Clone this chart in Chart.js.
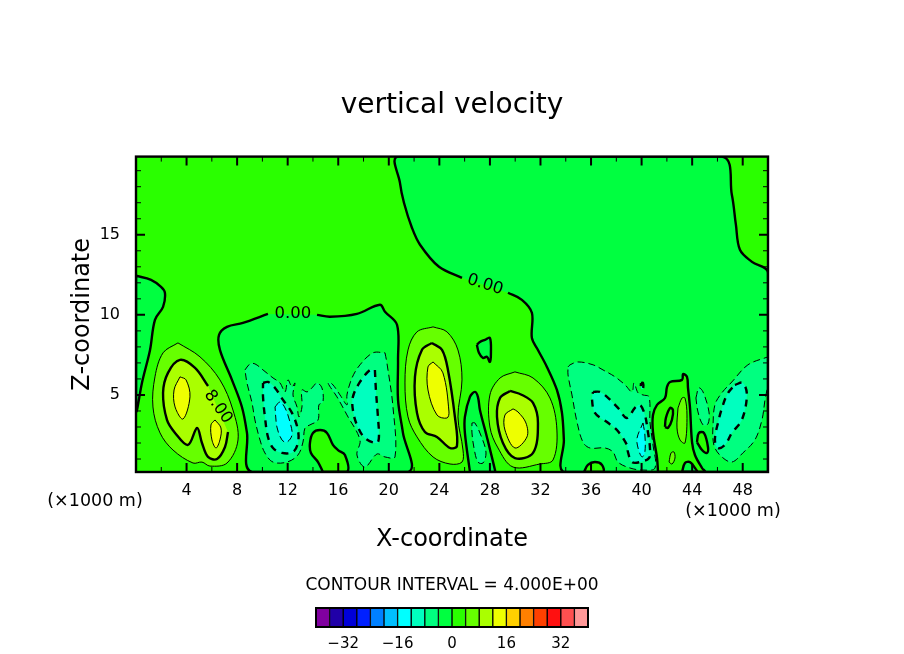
<!DOCTYPE html>
<html>
<head>
<meta charset="utf-8">
<style>
html,body{margin:0;padding:0;background:#fff}
#wrap{position:relative;width:904px;height:654px;overflow:hidden}
canvas{position:absolute;left:0}
</style>
<script src="https://cdn.jsdelivr.net/npm/chart.js@4"></script>
</head>
<body>
<div id="wrap">
<canvas id="contourChart" width="904" height="654" style="top:0"></canvas>
<canvas id="barChart" width="904" height="54" style="top:600px"></canvas>
</div>
<script>
// axis ranges and ticks (x in 1000 m)
const xRange = [0, 50];
const zRange = [0.19, 19.88];
const xLabels = [4, 8, 12, 16, 20, 24, 28, 32, 36, 40, 44, 48];
const xMinor = [2, 6, 10, 14, 18, 22, 26, 30, 34, 38, 42, 46, 50];
const zLabels = [5, 10, 15];
const zMinor = [1, 2, 3, 4, 6, 7, 8, 9, 11, 12, 13, 14, 16, 17, 18, 19];

// colour bar
const barEdges = [-40, -36, -32, -28, -24, -20, -16, -12, -8, -4, 0, 4, 8, 12, 16, 20, 24, 28, 32, 36, 40];
const barLabels = [-32, -16, 0, 16, 32];
const barColors = ["#8000a0", "#2000a8", "#0000d8", "#0020ff", "#0080ff", "#00bfff", "#00ffff", "#00ffbf",
  "#00ff80", "#00ff40", "#2aff00", "#66ff00", "#aaff00", "#eeff00", "#ffd000", "#ff8000", "#ff4000", "#ff1010",
  "#ff5050", "#ff9898"];

// contour outlines, [x, z]. a trailing null = gap for the line label
const plotBox = [[0,0.19],[50,0.19],[50,19.88],[0,19.88]];

const zeroRight = [[29.43,11.38],[30.53,10.94],[31.32,10.13],[31.32,8.56],[31.8,7.81],[32.51,6.75],[33.3,5.31],[33.7,3.88],[33.85,2.19],[33.93,0.19],[50,0.19],[50,12.63],[48.73,13.31],[47.78,14.06],[47.46,15.63],[47.14,17.5],[46.35,19.88],[20.73,19.88],[20.88,18.25],[21.2,17],[21.83,15.44],[22.47,14.38],[23.97,13],[25.79,12.31],null];
const zeroCenter = [[14.32,10],[15.35,9.88],[17.48,10.06],[19.3,10.63],[19.7,10.19],[20.65,9.38],[20.73,7.19],[20.73,4.69],[21.12,2.63],[21.52,0.19],[9.18,0.19],[8.78,2.63],[8.38,4.25],[7.59,5.94],[6.64,7.81],[6.57,8.75],[7.2,9.25],[8.46,9.5],[10.44,10.06],null];
const zeroLeft = [[0,12.44],[1.19,12.19],[1.98,11.75],[2.29,11.38],[2.14,10.5],[1.5,9.69],[1.11,7.81],[0.47,5.75],[0.08,4.06],[0,3.94]];
const zeroGap26 = [[26.42,0.19],[26.02,2.63],[26.02,3.63],[26.42,4.88],[26.81,5.19],[27.05,4.88],[27.21,4.06],[27.76,2.38],[28.4,0.31],[28.4,0.19]];
const zeroHeart = [[26.97,8.13],[27.21,8.31],[27.61,8.44],[28,8.56],[28.08,7.63],[28,7.06],[27.76,7.38],[27.45,7.31],[27.13,7.63]];
const zeroIsland16 = [[14.79,0.19],[14.4,0.81],[13.84,1.38],[13.76,2],[14,2.63],[14.56,2.81],[15.11,2.63],[15.58,1.88],[15.98,1.56],[16.53,1.25],[16.69,0.19]];
const zeroIsland36 = [[35.44,0.19],[35.75,0.63],[36.31,0.81],[36.87,0.63],[36.95,0.19]];
const zeroIsland43 = [[41.3,0.19],[41.22,1.06],[40.9,2.69],[40.9,3.75],[41.22,4.38],[41.85,4.81],[42.01,5.5],[42.25,5.81],[43.2,5.94],[43.28,6.31],[43.59,6.13],[43.67,5.44],[43.83,4.19],[43.99,2.06],[44.22,1.25],[44.78,0.44],[45.01,0.19]];
const zeroHole44 = [[43.2,0.19],[43.43,0.75],[43.83,0.81],[44.22,0.44],[44.38,0.19]];
const zeroRing42 = [[41.85,3],[41.92,3.56],[42.25,4.19],[42.48,4.06],[42.4,3.44],[42.09,2.94]];
const zeroIsland45 = [[44.38,2.06],[44.53,2.63],[44.93,2.63],[45.25,1.75],[45.17,1.38],[44.78,1.56]];

const neg4Left = [[8.62,6.56],[9.02,6.94],[9.41,6.94],[10.05,6.56],[10.84,6.06],[11.39,5.75],[11.79,5.19],[12.02,5.94],[12.34,5.5],[12.58,5.75],[12.42,5],[12.74,4.25],[12.89,3.63],[13.13,4.25],[13.13,5.31],[13.53,5.19],[13.92,5.44],[14.32,5.75],[14.71,5.44],[14.79,4.56],[14.47,4.38],[14.4,3.44],[13.76,3.13],[13.37,2.94],[13.21,2.06],[12.81,1.25],[11.94,0.81],[10.84,0.81],[10.2,1.38],[9.81,2.19],[9.41,3.44],[9.18,4.5],[8.78,5.75]];
const neg4Right = [[19.7,7.63],[19.85,7],[20.33,4.25],[20.49,1.13],[19.7,1.13],[19.06,1.31],[18.11,0.5],[17.48,1.25],[17.72,2.19],[16.69,3.75],[15.9,4.88],[15.19,5.75],[15.51,5.69],[16.14,5],[16.69,4.38],[16.69,5],[17.09,6.06],[17.72,6.88],[18.75,7.63]];
const neg4Gap = [[26.58,3.25],[26.81,3.25],[27.37,2.31],[27.69,1.38],[27.45,0.75],[27.05,0.81],[26.74,1.69],[26.58,2.63]];
const neg4Mid = [[34.18,6.75],[34.34,6.88],[34.97,7.06],[36.16,6.88],[36.95,6.56],[37.9,6.13],[38.69,5.63],[39.24,5.19],[39.4,5.75],[39.72,5.13],[40.11,5],[40.59,4.88],[40.66,3.31],[40.9,1.88],[41.06,0.44],[40.11,0.31],[39.08,0.44],[38.13,0.81],[37.74,1.44],[37.1,1.69],[35.91,1.69],[35.36,2.06],[34.89,3.31],[34.49,5],[34.18,6.25]];
const neg4Slim = [[44.3,4.81],[44.53,5.44],[44.86,5.19],[45.33,3.94],[45.25,3.19],[44.86,3.13],[44.46,3.94]];
const neg4East = [[50,7.38],[50,5.75],[49.76,4.69],[49.52,3.44],[48.96,2.19],[48.01,1.38],[47.14,0.81],[46.35,1.13],[45.8,1.69],[45.64,2.31],[45.64,2.94],[45.8,4.38],[46.35,5.13],[47.14,5.81],[48.41,6.88]];

const neg8Left = [[10.05,5.75],[10.44,5.81],[11,5.44],[11.63,4.69],[12.34,3.88],[12.81,2.81],[12.81,2],[12.42,1.44],[11.55,1.38],[10.84,1.69],[10.44,2.38],[10.2,3.63],[10.05,4.88]];
const neg8Right = [[18.9,6.56],[18.98,5.31],[19.14,3.63],[19.22,2.38],[19.06,2],[18.11,2.31],[17.48,3.13],[17.16,4.06],[17.16,4.88],[17.72,5.81],[18.51,6.56]];
const neg8Mid = [[36.16,5.19],[36.7,5.19],[37.26,4.88],[38.13,4.19],[38.84,3.56],[39.47,4.19],[39.87,4.38],[40.26,3.75],[40.5,2.69],[40.66,1.69],[40.59,1.06],[39.87,0.81],[39.24,0.81],[38.92,1.44],[38.84,1.88],[38.05,2.81],[37.26,3.31],[36.31,3.88],[36.07,4.81]];
const neg8Dot = [[39.95,5.75],[40.11,5.75],[40.11,5.38],[39.95,5.38]];
const neg8East = [[47.38,5.63],[48.01,5.75],[48.33,5],[47.93,3.44],[47.14,2.63],[46.59,1.88],[46.04,1.69],[45.8,2.19],[46.04,3.25],[46.44,4.38],[46.84,5.13]];

const neg12Left = [[11,4.25],[11.39,4.56],[11.79,4.19],[12.18,3.31],[12.34,2.5],[11.94,2.06],[11.55,2.19],[11.15,3]];
const neg12Mid = [[40.11,3.25],[40.26,2.5],[40.26,1.44],[40.03,1.13],[39.72,1.69],[39.64,2.31]];

const pos4A = [[3.32,8.25],[5.06,7.38],[6.64,5.94],[7.67,4.06],[8.07,2.19],[7.2,0.75],[5.85,0.56],[5.22,0.81],[4.51,0.75],[2.93,1.56],[1.9,2.63],[1.34,4.25],[1.5,6.13],[2.14,7.63]];
const pos4B = [[23.5,9.25],[24.6,8.94],[25.47,7.81],[25.79,5.94],[25.47,3.63],[25.87,1.56],[25.79,0.81],[24.84,0.69],[23.5,1.13],[22.23,2.38],[21.52,3.63],[21.28,5.75],[21.52,7.81],[22.23,8.94]];
const pos4C = [[29.98,6.44],[31.41,6.06],[32.75,4.81],[33.3,2.81],[32.99,0.94],[31.96,0.69],[29.83,0.5],[28.64,1.69],[28,3],[28,5],[28.8,6.06]];
const pos4Isle = [[42.88,4.19],[43.2,4.81],[43.43,4.81],[43.59,3.75],[43.43,2],[43.04,2.19],[42.8,2.94]];
const pos4Dot = [[42.17,0.81],[42.33,1.38],[42.56,1.44],[42.64,1.06],[42.41,0.69]];

const pos8A = [[7.28,2.69],[7.04,1.75],[6.41,1],[5.7,1.13],[5.22,2],[4.83,2.94],[4.11,1.88],[3.09,2.63],[2.45,3.44],[2.14,5.13],[2.53,6.38],[3.48,7.19],[4.67,6.69],[5.7,5.56],null];
const pos8B = [[23.41,8.25],[24.21,7.81],[24.68,6.56],[25.23,3.63],[25.39,1.81],[24.84,1.69],[23.81,2.38],[22.86,2.69],[22.23,3.88],[22.07,6.13],[22.62,7.81]];
const pos8C = [[29.59,5.25],[30.54,5],[31.41,4.5],[31.8,3.25],[31.41,1.38],[29.98,1.06],[29.03,2],[28.56,3.63],[28.8,4.81]];

const pos12A = [[3.48,6.13],[3.96,5.94],[4.27,4.88],[3.72,3.5],[3.09,4.25],[3.01,5.31]];
const pos12Foot = [[6.25,3.44],[6.72,2.94],[6.64,2.19],[6.33,1.69],[6.01,2.19],[5.93,3.13]];
const pos12B = [[23.5,7.06],[24.28,6.38],[24.76,3.94],[24.6,3.56],[23.81,3.75],[23.1,5.31],[23.1,6.75]];
const pos12C = [[29.83,4.13],[30.22,3.94],[30.85,3.25],[30.93,2.38],[29.98,1.69],[29.19,2.81],[29.19,3.75]];

// painted in this order: [outline, contour level, lower edge of filled band]
const contours = [
  [zeroRight, 0, -4], [zeroCenter, 0, -4], [zeroLeft, 0, -4], [zeroGap26, 0, -4], [zeroHeart, 0, -4],
  [neg4Left, -4, -8], [neg4Right, -4, -8], [neg4Gap, -4, -8], [neg4Mid, -4, -8], [neg4Slim, -4, -8], [neg4East, -4, -8],
  [neg8Left, -8, -12], [neg8Right, -8, -12], [neg8Mid, -8, -12], [neg8Dot, -8, -12], [neg8East, -8, -12],
  [neg12Left, -12, -16], [neg12Mid, -12, -16],
  [zeroIsland16, 0, 0], [zeroIsland36, 0, 0], [zeroIsland43, 0, 0], [zeroIsland45, 0, 0], [zeroHole44, 0, -4], [zeroRing42, 0, null],
  [pos4A, 4, 4], [pos4B, 4, 4], [pos4C, 4, 4], [pos4Isle, 4, 4], [pos4Dot, 4, 4],
  [pos8A, 8, 8], [pos8B, 8, 8], [pos8C, 8, 8],
  [pos12A, 12, 12], [pos12Foot, 12, 12], [pos12B, 12, 12], [pos12C, 12, 12]
];

const lineLabels = ["0.00", "0.00", "8.00"];
const lineLabelX = [12.42, 27.61, 6.49];
const lineLabelZ = [10.06, 11.88, 4.25];
const lineLabelAngle = [0, 18, 55];

const font = "DejaVu Sans";

function bandColor(band) {
  return barColors[barEdges.indexOf(band)];
}

const datasets = [];
const base = {type: "line", pointRadius: 0, tension: 0.35, clip: true};

// fills first
datasets.push({...base, data: plotBox.map(p => ({x: p[0], y: p[1]})), fill: "shape", backgroundColor: bandColor(0), borderWidth: 0, tension: 0});
contours.forEach(c => {
  if (c[2] === null) return;
  datasets.push({...base,
    data: c[0].filter(p => p).map(p => ({x: p[0], y: p[1]})),
    fill: "shape", backgroundColor: bandColor(c[2]), borderWidth: 0});
});
// then the lines, dashed below zero, heavy every 8
contours.forEach(c => {
  const open = c[0][c[0].length - 1] === null;
  const pts = c[0].filter(p => p).map(p => ({x: p[0], y: p[1]}));
  if (!open) pts.push(pts[0]);
  datasets.push({...base, data: pts, fill: false, borderColor: "#000",
    borderWidth: c[1] % 8 === 0 ? 2.4 : 1,
    borderDash: c[1] < 0 ? (c[1] % 8 === 0 ? [7, 6] : [7, 4]) : []});
});
// chart.js paints dataset 0 last
datasets.reverse();

const inwardTicks = {
  id: "inwardTicks",
  afterDatasetsDraw(chart) {
    const {ctx, chartArea: a, scales} = chart;
    ctx.save();
    ctx.strokeStyle = "#000";
    const tick = (vals, len, w) => {
      ctx.lineWidth = w;
      ctx.beginPath();
      vals.xs.forEach(v => {
        const px = scales.x.getPixelForValue(v);
        ctx.moveTo(px, a.bottom); ctx.lineTo(px, a.bottom - len);
        ctx.moveTo(px, a.top); ctx.lineTo(px, a.top + len);
      });
      vals.zs.forEach(v => {
        const py = scales.y.getPixelForValue(v);
        ctx.moveTo(a.left, py); ctx.lineTo(a.left + len, py);
        ctx.moveTo(a.right, py); ctx.lineTo(a.right - len, py);
      });
      ctx.stroke();
    };
    tick({xs: xLabels, zs: zLabels}, 9, 2);
    tick({xs: xMinor, zs: zMinor}, 5, 1);
    ctx.lineWidth = 2.4;
    ctx.strokeRect(a.left, a.top, a.right - a.left, a.bottom - a.top);
    ctx.restore();
  }
};

const textLayer = {
  id: "textLayer",
  afterDraw(chart) {
    const {ctx, scales} = chart;
    ctx.save();
    ctx.fillStyle = "#000";
    ctx.textAlign = "center";
    ctx.textBaseline = "middle";
    ctx.font = "17.5px '" + font + "'";
    ctx.fillText("(×1000 m)", 95, 501);
    ctx.fillText("(×1000 m)", 733, 511);
    ctx.font = "17px '" + font + "'";
    ctx.fillText("CONTOUR INTERVAL = 4.000E+00", 452, 586);
    ctx.font = "16.5px '" + font + "'";
    lineLabels.forEach((t, i) => {
      ctx.save();
      ctx.translate(scales.x.getPixelForValue(lineLabelX[i]), scales.y.getPixelForValue(lineLabelZ[i]));
      ctx.rotate(lineLabelAngle[i] * Math.PI / 180);
      ctx.fillText(t, 0, 0);
      ctx.restore();
    });
    ctx.restore();
  }
};

new Chart(document.getElementById("contourChart"), {
  type: "line",
  data: {datasets},
  plugins: [inwardTicks, textLayer],
  options: {
    responsive: false,
    devicePixelRatio: 1,
    animation: false,
    events: [],
    layout: {padding: 0},
    plugins: {
      legend: {display: false},
      tooltip: {enabled: false},
      title: {display: true, text: "vertical velocity", color: "#000",
        font: {family: font, size: 28, weight: "normal"},
        padding: {top: 89, bottom: 34}}
    },
    scales: {
      x: {
        type: "linear", min: xRange[0], max: xRange[1],
        afterFit: s => { s.height = 182; },
        border: {display: false},
        grid: {drawOnChartArea: false, drawTicks: false},
        ticks: {stepSize: 4, includeBounds: false, autoSkip: false, maxRotation: 0, padding: 9, color: "#000",
          font: {family: font, size: 16},
          callback: v => xLabels.includes(v) ? v : ""},
        title: {display: true, text: "X-coordinate", color: "#000", font: {family: font, size: 24}, padding: {top: 0, bottom: 100}}
      },
      y: {
        type: "linear", min: zRange[0], max: zRange[1],
        afterFit: s => { s.width = 136; },
        border: {display: false},
        grid: {drawOnChartArea: false, drawTicks: false},
        ticks: {stepSize: 5, includeBounds: false, autoSkip: false, padding: 16, color: "#000",
          font: {family: font, size: 16},
          callback: v => zLabels.includes(v) ? v : ""},
        title: {display: true, text: "Z-coordinate", color: "#000", font: {family: font, size: 24}, padding: {top: 68, bottom: 0}}
      },
      yEast: {
        type: "linear", position: "right", min: zRange[0], max: zRange[1],
        afterFit: s => { s.width = 136; },
        border: {display: false},
        grid: {display: false},
        ticks: {display: false}
      }
    }
  }
});

const barFrame = {
  id: "barFrame",
  afterDatasetsDraw(chart) {
    const {ctx, chartArea: a} = chart;
    ctx.save();
    ctx.strokeStyle = "#000";
    ctx.lineWidth = 2;
    ctx.strokeRect(a.left, a.top, a.right - a.left, a.bottom - a.top);
    ctx.restore();
  }
};

new Chart(document.getElementById("barChart"), {
  type: "bar",
  data: {
    labels: [""],
    datasets: barColors.map((c, i) => ({
      data: [[barEdges[i], barEdges[i + 1]]],
      backgroundColor: c, borderColor: "#000", borderWidth: 1, borderSkipped: false, grouped: false,
      barPercentage: 1, categoryPercentage: 1
    }))
  },
  plugins: [barFrame],
  options: {
    indexAxis: "y",
    responsive: false,
    devicePixelRatio: 1,
    animation: false,
    events: [],
    layout: {padding: {left: 316, right: 316, top: 8, bottom: 0}},
    plugins: {legend: {display: false}, tooltip: {enabled: false}},
    scales: {
      y: {display: false},
      x: {
        type: "linear", min: barEdges[0], max: barEdges[barEdges.length - 1],
        afterFit: s => { s.height = 27; },
        border: {display: false},
        grid: {display: false},
        ticks: {stepSize: 8, includeBounds: false, autoSkip: false, maxRotation: 0, padding: 0, color: "#000",
          font: {family: font, size: 15},
          callback: v => barLabels.includes(v) ? String(v).replace("-", "\u2212") : ""}
      }
    }
  }
});
</script>
</body>
</html>
